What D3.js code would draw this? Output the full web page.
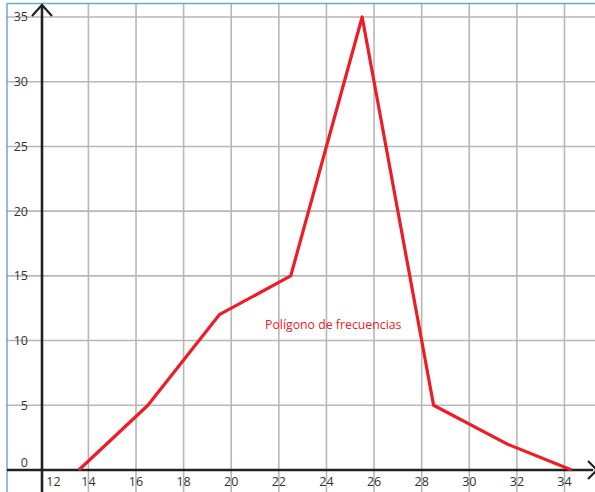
<!DOCTYPE html>
<html><head><meta charset="utf-8">
<script src="https://cdn.jsdelivr.net/npm/d3@7"></script>
<style>html,body{margin:0;padding:0;background:#fff;}svg{display:block;}</style>
</head><body>
<svg id="c" width="595" height="492"></svg>
<script>
const classMarks = [13.6, 16.5, 19.5, 22.5, 25.5, 28.5, 31.6, 34.3];
const frequencies = [0, 5, 12, 15, 35, 5, 2, 0];
const xTicks = [12, 14, 16, 18, 20, 22, 24, 26, 28, 30, 32, 34];
const yTicks = [0, 5, 10, 15, 20, 25, 30, 35];
const seriesLabel = "Polígono de frecuencias";

const W = 595, H = 492;
const svg = d3.select("#c");
const x = d3.scaleLinear().domain([14, 34]).range([88.4, 564.5]);
const y = d3.scaleLinear().domain([0, 35]).range([470, 17]);
const axisX = 42, frameL = 7, frameT = 3.5;
const font = "'Open Sans', sans-serif";

// grid
const vgrid = d3.range(14, 36, 2);
svg.append("g").selectAll("line").data(vgrid).join("line")
  .attr("x1", d => x(d)).attr("x2", d => x(d))
  .attr("y1", frameT).attr("y2", H)
  .attr("stroke", "#b7b7b7").attr("stroke-width", 1.6);
svg.append("g").selectAll("line").data(yTicks).join("line")
  .attr("x1", frameL).attr("x2", W)
  .attr("y1", d => y(d)).attr("y2", d => y(d))
  .attr("stroke", "#b7b7b7").attr("stroke-width", 1.6);

// frame
svg.append("line").attr("x1", frameL).attr("x2", W).attr("y1", frameT).attr("y2", frameT)
  .attr("stroke", "#6aa6d6").attr("stroke-width", 1.6);
svg.append("line").attr("x1", frameL).attr("x2", frameL).attr("y1", frameT).attr("y2", H)
  .attr("stroke", "#4f8fc8").attr("stroke-width", 1.2);

// y tick labels (centred on their grid lines; 0 sits above the axis)
svg.append("g").selectAll("text").data(yTicks).join("text")
  .attr("x", 28).attr("y", d => d === 0 ? y(d) - 3 : y(d))
  .attr("dy", d => d === 0 ? 0 : "0.35em")
  .attr("text-anchor", "end")
  .attr("font-family", font).attr("font-size", 12.5).attr("fill", "#333")
  .text(d => d);

// x tick labels
svg.append("g").selectAll("text").data(xTicks).join("text")
  .attr("x", d => Math.max(x(d), axisX + 11.5)).attr("y", 485.5)
  .attr("text-anchor", "middle")
  .attr("font-family", font).attr("font-size", 12.5).attr("fill", "#333")
  .text(d => d);

// axes
svg.append("line").attr("x1", frameL).attr("x2", W - 2).attr("y1", y(0)).attr("y2", y(0))
  .attr("stroke", "#222").attr("stroke-width", 2.4);
svg.append("line").attr("x1", axisX).attr("x2", axisX).attr("y1", 5).attr("y2", H)
  .attr("stroke", "#222").attr("stroke-width", 2.6);
// arrows
svg.append("path").attr("d", `M${axisX - 10},${16} L${axisX},${5} L${axisX + 10},${16}`)
  .attr("fill", "none").attr("stroke", "#222").attr("stroke-width", 2.2);
svg.append("path").attr("d", `M${W - 7},${y(0) - 9} L${W + 2},${y(0)} L${W - 7},${y(0) + 9}`)
  .attr("fill", "none").attr("stroke", "#222").attr("stroke-width", 2.2);

// polygon
const pts = classMarks.map((c, i) => [c, frequencies[i]]);
svg.append("path").datum(pts)
  .attr("d", d3.line().x(d => x(d[0])).y(d => y(d[1])))
  .attr("fill", "none").attr("stroke", "#ee1c25").attr("stroke-width", 3.2)
  .attr("stroke-linejoin", "round");

svg.append("text").attr("x", 265).attr("y", 329)
  .attr("font-family", font).attr("font-size", 12.3).attr("fill", "#ee1c25")
  .text(seriesLabel);
</script>
</body></html>
